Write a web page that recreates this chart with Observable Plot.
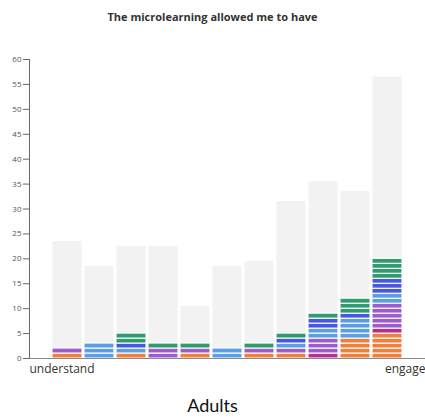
<!DOCTYPE html>
<html>
<head>
<meta charset="utf-8">
<script src="https://cdn.jsdelivr.net/npm/d3@7"></script>
<script src="https://cdn.jsdelivr.net/npm/@observablehq/plot@0.6"></script>
<style>
  html, body { margin: 0; padding: 0; background: #fff; width: 425px; height: 418px; overflow: hidden; }
  #title { height: 30px; line-height: 34px; text-align: center; font-family: "Open Sans", sans-serif; font-weight: 700; font-size: 11px; color: #333; }
  #caption { height: 33px; line-height: 40px; text-align: center; font-family: Lato, "Open Sans", sans-serif; font-weight: 400; font-size: 18px; color: #111; }
  #chart svg { display: block; }
</style>
</head>
<body>
<div id="title">The microlearning allowed me to have</div>
<div id="chart"></div>
<div id="caption">Adults</div>
<script>
// Bars (11 positions from "understand" to "engage")
const bars = ["b1","b2","b3","b4","b5","b6","b7","b8","b9","b10","b11"];
// Grey background totals
const totals = [23.5, 18.5, 22.5, 22.5, 10.5, 18.5, 19.5, 31.5, 35.5, 33.5, 56.5];
// Response groups (stacking order bottom to top) and colours
const groups = ["orange", "magenta", "purple", "lightblue", "blue", "green"];
const groupColors = ["#ef7f3c", "#b52f8e", "#9c5ccc", "#5c9ee2", "#4857df", "#2f9b6e"];
// Unit counts per group for each bar
const orange    = [1, 0, 1, 0, 1, 0, 1, 1, 0, 4, 5];
const magenta   = [0, 0, 0, 0, 0, 0, 0, 0, 1, 0, 1];
const purple    = [1, 0, 0, 2, 1, 0, 1, 1, 3, 0, 5];
const lightblue = [0, 3, 1, 0, 0, 2, 0, 1, 2, 4, 2];
const blue      = [0, 0, 1, 0, 0, 0, 0, 1, 2, 1, 3];
const green     = [0, 0, 2, 1, 1, 0, 1, 1, 1, 3, 4];
const yTicks = [0, 5, 10, 15, 20, 25, 30, 35, 40, 45, 50, 55, 60];
const xEndLabels = ["understand", "engage"];

const countsByGroup = {orange, magenta, purple, lightblue, blue, green};
const units = [];
bars.forEach((b, i) => {
  groups.forEach(g => {
    for (let k = 0; k < countsByGroup[g][i]; k++) units.push({bar: b, group: g, v: 1});
  });
});
const totalRows = bars.map((b, i) => ({bar: b, total: totals[i]}));

const chart = Plot.plot({
  width: 425,
  height: 355,
  marginLeft: 29,
  marginRight: 0,
  marginTop: 29,
  marginBottom: 27,
  style: {fontFamily: "'Open Sans', sans-serif", background: "white"},
  x: {domain: bars, range: [50, 405], padding: 0.05, axis: null},
  y: {domain: [0, 60], axis: null},
  color: {type: "ordinal", domain: groups, range: groupColors},
  marks: [
    Plot.barY(totalRows, {x: "bar", y: "total", fill: "#f2f2f2", insetLeft: 0.5, insetRight: 0.5}),
    Plot.barY(units, {x: "bar", y: "v", fill: {value: "group", scale: "color"}, stroke: "white", strokeWidth: 1.1}),
    Plot.axisY({ticks: yTicks, tickSize: 6, tickPadding: 2, fontSize: 8, color: "#555", stroke: "#666", label: null}),
    Plot.frame({anchor: "left", stroke: "#666"}),
    Plot.ruleY([0], {stroke: "#888", strokeWidth: 1.2}),
    Plot.text([xEndLabels[0]], {text: d => d, frameAnchor: "bottom-left", textAnchor: "start", dy: 14, fontSize: 12, fill: "#333"}),
    Plot.text([xEndLabels[1]], {text: d => d, frameAnchor: "bottom-right", textAnchor: "end", dy: 14, fontSize: 12, fill: "#333"})
  ]
});
document.getElementById("chart").appendChild(chart);
</script>
</body>
</html>
